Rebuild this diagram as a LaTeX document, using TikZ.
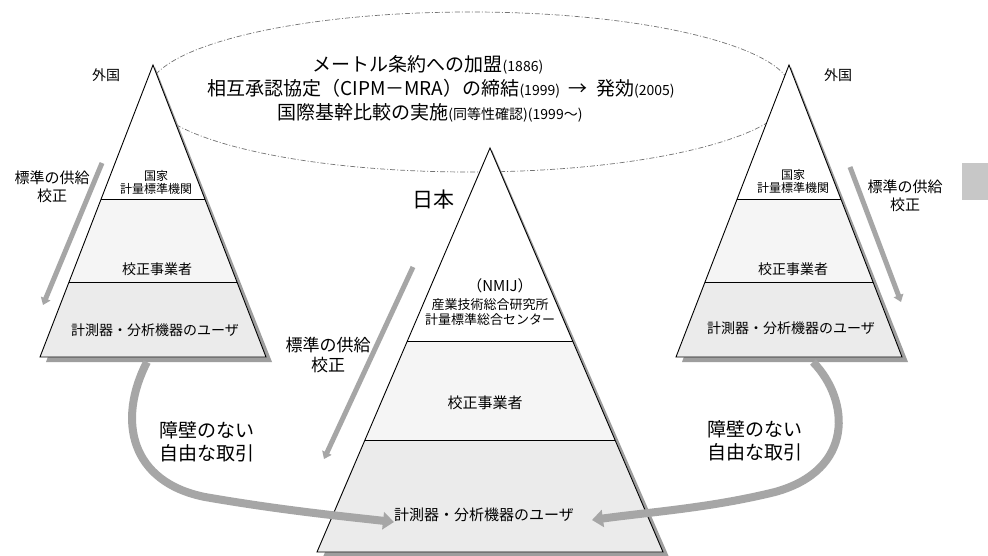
\documentclass[tikz,border=0pt]{standalone}
\usepackage{fontspec}
\setmainfont{Noto Sans CJK JP}
\usetikzlibrary{arrows.meta,calc}
\newcommand\fsz[1]{\fontsize{#1}{#1}\selectfont}
% #1 prefix, #2 apex x, #3 apex y, #4 half width, #5 height, #6 t1, #7 t2
\newcommand\mypyr[7]{%
  \coordinate (#1A) at (#2,#3);
  \coordinate (#1L) at ({#2-#4},{#3+#5});
  \coordinate (#1R) at ({#2+#4},{#3+#5});
  \coordinate (#1a) at ($(#1A)!#6!(#1L)$);
  \coordinate (#1b) at ($(#1A)!#6!(#1R)$);
  \coordinate (#1c) at ($(#1A)!#7!(#1L)$);
  \coordinate (#1d) at ($(#1A)!#7!(#1R)$);
  \fill[shadowfill] ($(#1A)+(2,2)$) -- ($(#1R)+(6,5)$) -- ($(#1L)+(6,5)$) -- cycle;
  \fill[white] (#1A) -- (#1R) -- (#1L) -- cycle;
  \fill[midband] (#1a) -- (#1b) -- (#1d) -- (#1c) -- cycle;
  \fill[lowband] (#1c) -- (#1d) -- (#1R) -- (#1L) -- cycle;
  \draw[tri] (#1A) -- (#1R) -- (#1L) -- cycle;
  \draw[tri] (#1a) -- (#1b);
  \draw[tri] (#1c) -- (#1d);
}
\begin{document}
\begin{tikzpicture}[x=1pt,y=-1pt,
  shadowfill/.style={fill=black!38},
  tri/.style={draw=black,line width=0.9pt},
  midband/.style={fill=black!4},
  lowband/.style={fill=black!8},
  flow/.style={draw=black!35,line width=5pt,-{Triangle[width=10pt,length=7pt]}},
  trade/.style={draw=black!35,line width=8pt,-{Triangle[width=17pt,length=11pt]}},
  lbl/.style={inner sep=0pt,align=center}]
\useasboundingbox (0,0) rectangle (988,556);
\fill[white] (0,0) rectangle (988,556);

% agreement ellipse
\draw[black!55,dashed,dash pattern=on 5pt off 2pt on 1pt off 2pt,line width=0.7pt] (470,92) ellipse [x radius=322,y radius=80];

% grey block at the right edge
\fill[black!22] (962,163) rectangle (988,200);

% pyramids
\mypyr{L}{153}{65}{113}{292}{0.462}{0.743}
\mypyr{R}{789}{65}{113}{292}{0.459}{0.743}
\mypyr{C}{490}{148}{173}{404}{0.480}{0.723}

% supply arrows
\coordinate (sL1) at (102,163); \coordinate (sL2) at (43,305);
\coordinate (sC1) at (413,267); \coordinate (sC2) at (324,459);
\coordinate (sR1) at (850,167); \coordinate (sR2) at (901,302);
\draw[flow] (sL1) -- (sL2);
\draw[flow] (sC1) -- (sC2);
\draw[flow] (sR1) -- (sR2);

% trade arrows
\coordinate (tL1) at (147,362); \coordinate (tL2) at (394,522);
\coordinate (tR1) at (813,362); \coordinate (tR2) at (592,520);
\draw[trade] (tL1) .. controls (117,420) and (130,482) .. (205,497) .. controls (280,510) and (340,516) .. (tL2);
\draw[trade] (tR1) .. controls (850,400) and (855,470) .. (775,492) .. controls (710,508) and (650,512) .. (tR2);

% title texts
\node[lbl] (h1) at (428,65) {\fsz{19}メートル条約への加盟{\fsz{14}(1886)}};
\node[lbl] (h2) at (441,89) {\fsz{19}相互承認協定（CIPM－MRA）の締結{\fsz{14}(1999)}\ \ →\ \ 発効{\fsz{14}(2005)}};
\node[lbl] (h3) at (430,113) {\fsz{19}国際基幹比較の実施{\fsz{14}(同等性確認)(1999～)}};

% country labels
\node[lbl] (fL) at (106,75) {\fsz{14}外国};
\node[lbl] (fR) at (838,75) {\fsz{14}外国};
\node[lbl] (jp) at (433,200) {\fsz{21}日本};

% left pyramid
\node[lbl] (L1) at (156,182) {\fsz{12}国家\\[1pt]\fsz{12}計量標準機関};
\node[lbl] (L2) at (157,269) {\fsz{14}校正事業者};
\node[lbl] (L3) at (155,330) {\fsz{14}計測器・分析機器のユーザ};

% right pyramid
\node[lbl] (R1) at (793,181) {\fsz{12}国家\\[1pt]\fsz{12}計量標準機関};
\node[lbl] (R2) at (793,269) {\fsz{14}校正事業者};
\node[lbl] (R3) at (791,328) {\fsz{14}計測器・分析機器のユーザ};

% center pyramid
\node[lbl] (C0) at (500,286) {\fsz{15}（NMIJ）};
\node[lbl] (C1) at (490,312) {\fsz{13}産業技術総合研究所\\[2pt]\fsz{13}計量標準総合センター};
\node[lbl] (C2) at (485,403) {\fsz{15}校正事業者};
\node[lbl] (C3) at (484,515) {\fsz{15}計測器・分析機器のユーザ};

% side labels
\node[lbl] (sl) at (52,187) {\fsz{15}標準の供給\\[3pt]\fsz{15}校正};
\node[lbl] (sr) at (905,196) {\fsz{15}標準の供給\\[3pt]\fsz{15}校正};
\node[lbl] (sc) at (328,355) {\fsz{17}標準の供給\\[4pt]\fsz{17}校正};
\node[lbl] (tl) at (207,442) {\fsz{19}障壁のない\\[4pt]\fsz{19}自由な取引};
\node[lbl] (tr) at (755,441) {\fsz{19}障壁のない\\[4pt]\fsz{19}自由な取引};
\end{tikzpicture}
\end{document}
